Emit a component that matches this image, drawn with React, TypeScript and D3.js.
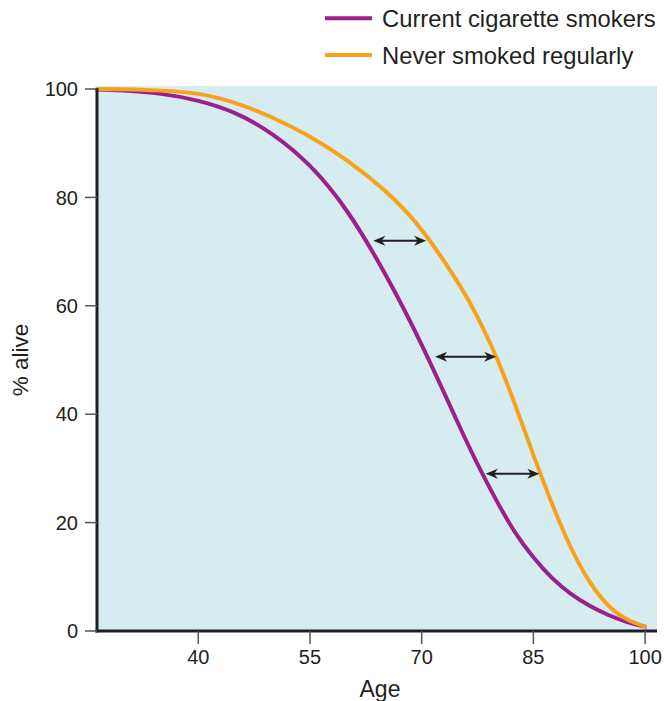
import React from "react";
import * as d3 from "d3";

const ages = [26.4, 30, 35, 40, 45, 50, 55, 60, 65, 70, 75, 77.5, 80, 82.5, 85, 87.5, 90, 92.5, 95, 97.5, 100];
const smokers = [99.9, 99.7, 99.1, 97.8, 95.5, 91.6, 85.8, 77.4, 66.1, 52.8, 38.0, 30.8, 24.2, 18.3, 13.6, 9.8, 6.9, 4.7, 3.0, 1.7, 0.8];
const neverSmoked = [100, 99.95, 99.7, 99.1, 97.4, 94.7, 91.2, 86.8, 81.3, 74.0, 64.0, 57.9, 50.6, 41.9, 32.5, 23.5, 15.5, 9.2, 4.8, 2.2, 0.8];

const xTicks = [40, 55, 70, 85, 100];
const yTicks = [0, 20, 40, 60, 80, 100];

const arrowLevels = [72.0, 50.6, 29.0];
const arrowFrom = [63.5, 71.8, 78.6];
const arrowTo = [70.6, 80.0, 85.8];

const legendLabels = ["Current cigarette smokers", "Never smoked regularly"];
const colors = ["#9c1f8e", "#f8a21c"];

const FONT = "'Liberation Sans', Arial, Helvetica, sans-serif";
const INK = "#231f20";

export default function App() {
  const W = 664, H = 701;
  const left = 97, right = 657, top = 86, bottom = 631;
  const x = d3.scaleLinear().domain([26.4, 101.6]).range([left, right]);
  const y = d3.scaleLinear().domain([0, 100]).range([631, 89]);

  const line = d3
    .line<number>()
    .x((_, i) => x(ages[i]))
    .y((d) => y(Math.min(100, d)))
    .curve(d3.curveNatural);

  const series = [smokers, neverSmoked];

  const head = (tipX: number, yy: number, dir: number) => {
    const L = 12, hw = 5, notch = 3.5;
    const bx = tipX - dir * L;
    return `M${tipX},${yy} L${bx},${yy - hw} L${bx + dir * notch},${yy} L${bx},${yy + hw} Z`;
  };

  return (
    <svg width={W} height={H} style={{ display: "block", position: "absolute", left: 0, top: 0 }} fontFamily={FONT}>
      <rect x={left} y={top} width={right - left} height={bottom - top} fill="#d5edf1" />

      {series.map((s, i) => (
        <path key={i} d={line(s) || ""} fill="none" stroke={colors[i]} strokeWidth={4} strokeLinecap="round" />
      ))}

      {arrowLevels.map((lv, i) => {
        const yy = y(lv);
        const x1 = x(arrowFrom[i]);
        const x2 = x(arrowTo[i]);
        return (
          <g key={i}>
            <line x1={x1 + 6} x2={x2 - 6} y1={yy} y2={yy} stroke={INK} strokeWidth={2} />
            <path d={head(x1, yy, -1)} fill={INK} />
            <path d={head(x2, yy, 1)} fill={INK} />
          </g>
        );
      })}

      {/* axes */}
      <line x1={left} x2={left} y1={top + 2} y2={bottom + 1.5} stroke={INK} strokeWidth={3} />
      <line x1={left - 1.5} x2={right} y1={bottom} y2={bottom} stroke={INK} strokeWidth={3} />

      {yTicks.map((t) => (
        <g key={t}>
          <line x1={85} x2={left} y1={y(t)} y2={y(t)} stroke="#555" strokeWidth={1.5} />
          <text x={78} y={y(t)} dy="0.36em" textAnchor="end" fontSize={20} fill={INK}>
            {t}
          </text>
        </g>
      ))}
      {xTicks.map((t) => (
        <g key={t}>
          <line x1={x(t)} x2={x(t)} y1={bottom} y2={644} stroke="#555" strokeWidth={1.5} />
          <text x={x(t)} y={664} textAnchor="middle" fontSize={20} fill={INK}>
            {t}
          </text>
        </g>
      ))}

      <text x={380} y={697} textAnchor="middle" fontSize={23} fill={INK}>
        Age
      </text>
      <text
        transform={`translate(28,360) rotate(-90)`}
        textAnchor="middle"
        fontSize={22.5}
        fill={INK}
      >
        % alive
      </text>

      {legendLabels.map((lab, i) => (
        <g key={lab} transform={`translate(0,${i * 36.7})`}>
          <line x1={325} x2={372} y1={18.3} y2={18.3} stroke={colors[i]} strokeWidth={4} />
          <text x={382} y={27} fontSize={23.8} fill={INK}>
            {lab}
          </text>
        </g>
      ))}
    </svg>
  );
}
